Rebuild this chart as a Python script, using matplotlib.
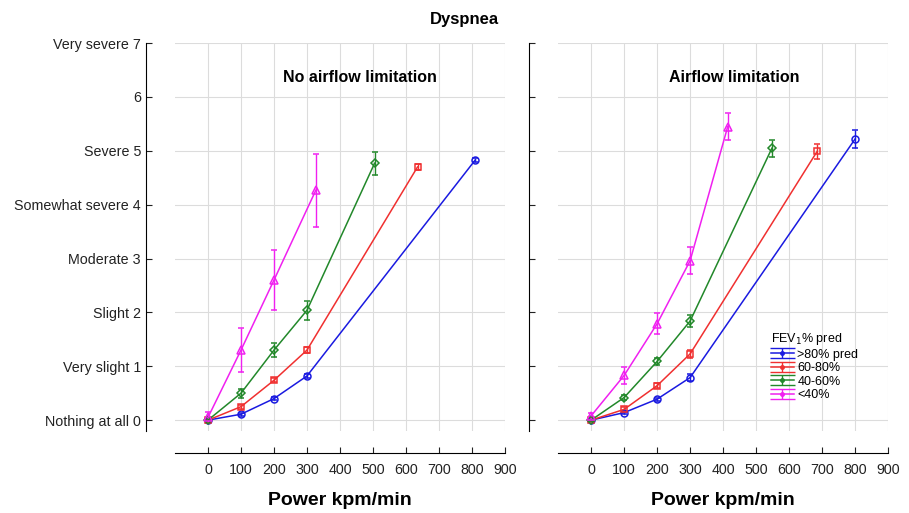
import matplotlib.pyplot as plt
from matplotlib.legend_handler import HandlerErrorbar
import numpy as np

plt.rcParams["font.family"] = ["Liberation Sans", "DejaVu Sans"]

groups = [">80% pred", "60-80%", "40-60%", "<40%"]
colors = ["#1a1ae0", "#f03030", "#22882a", "#f020f0"]
markers = ["o", "s", "D", "^"]
marker_sizes = [5, 5, 4.5, 5.5]

y_tick_labels = ["Nothing at all 0", "Very slight 1", "Slight 2", "Moderate 3",
                 "Somewhat severe 4", "Severe 5", "6", "Very severe 7"]

# no airflow limitation
left_x = [
    [0, 100, 200, 300, 810],
    [0, 100, 200, 300, 635],
    [0, 100, 200, 300, 505],
    [0, 100, 200, 327],
]
left_y = [
    [0.0, 0.11, 0.40, 0.82, 4.83],
    [0.0, 0.25, 0.74, 1.30, 4.70],
    [0.0, 0.50, 1.30, 2.04, 4.77],
    [0.05, 1.30, 2.60, 4.27],
]
left_err = [
    [0.02, 0.03, 0.03, 0.04, 0.03],
    [0.02, 0.04, 0.04, 0.05, 0.06],
    [0.02, 0.08, 0.13, 0.18, 0.21],
    [0.10, 0.41, 0.55, 0.68],
]

# airflow limitation
right_x = [
    [0, 100, 200, 300, 800],
    [0, 100, 200, 300, 685],
    [0, 100, 200, 300, 548],
    [0, 100, 200, 300, 414],
]
right_y = [
    [0.0, 0.14, 0.39, 0.79, 5.22],
    [0.0, 0.20, 0.64, 1.23, 4.99],
    [0.0, 0.42, 1.09, 1.84, 5.05],
    [0.08, 0.83, 1.79, 2.96, 5.45],
]
right_err = [
    [0.02, 0.03, 0.03, 0.06, 0.17],
    [0.02, 0.04, 0.05, 0.07, 0.14],
    [0.02, 0.05, 0.07, 0.12, 0.16],
    [0.05, 0.15, 0.19, 0.25, 0.25],
]

fig = plt.figure(figsize=(9.09, 5.13), dpi=100)
ax1 = fig.add_axes([0.1925, 0.160, 0.363, 0.756])
ax2 = fig.add_axes([0.614, 0.160, 0.363, 0.756])

for ax, xs, ys, es in [(ax1, left_x, left_y, left_err), (ax2, right_x, right_y, right_err)]:
    for i in range(len(groups)):
        ax.errorbar(xs[i], ys[i], yerr=es[i], color=colors[i], marker=markers[i],
                    markersize=marker_sizes[i], markerfacecolor="none",
                    markeredgewidth=1.1, linewidth=1.1, elinewidth=1.0,
                    capsize=2.5, zorder=3)

    ax.set_xlim(-100, 900)
    ax.set_ylim(-0.2, 7)
    ax.set_xticks(np.arange(0, 1000, 100))
    ax.set_yticks(np.arange(0, 8, 1))
    ax.grid(True, color="#dcdcdc", linewidth=0.8, zorder=0)
    ax.set_axisbelow(True)
    for s in ["top", "right"]:
        ax.spines[s].set_visible(False)
    ax.spines["left"].set_position(("outward", 21))
    ax.spines["bottom"].set_position(("outward", 16))
    ax.tick_params(direction="in", length=4, width=0.8, labelsize=10.3,
                   labelcolor="#222222", color="#222222")
    ax.tick_params(axis="x", pad=7)
    ax.set_xlabel("Power kpm/min", fontsize=14, fontweight="bold", labelpad=11)

ax1.set_yticklabels(y_tick_labels)
ax2.tick_params(axis="y", labelleft=False)

ax1.text(0.56, 0.912, "No airflow limitation", transform=ax1.transAxes,
         ha="center", va="center", fontsize=11.5, fontweight="bold")
ax2.text(0.533, 0.912, "Airflow limitation", transform=ax2.transAxes,
         ha="center", va="center", fontsize=11.5, fontweight="bold")

fig.text(0.511, 0.962, "Dyspnea", ha="center", va="center", fontsize=12, fontweight="bold")

# legend handles: small filled dot with wide caps
handles = []
for i in range(len(groups)):
    h = ax2.errorbar([np.nan], [np.nan], yerr=[0.1], color=colors[i], marker="o",
                     markersize=2.5, linewidth=1.1, elinewidth=1.0, capsize=9)
    handles.append(h)

ax2.legend(handles=handles, labels=groups, title="FEV$_1$% pred",
           loc="upper left", bbox_to_anchor=(0.63, 0.27), frameon=False,
           fontsize=9, title_fontsize=9, handlelength=1.8, handletextpad=0.3,
           labelspacing=0.12, borderaxespad=0, alignment="left",
           handler_map={type(handles[0]): HandlerErrorbar(yerr_size=0.4)})

fig.savefig("out.png", dpi=100)
